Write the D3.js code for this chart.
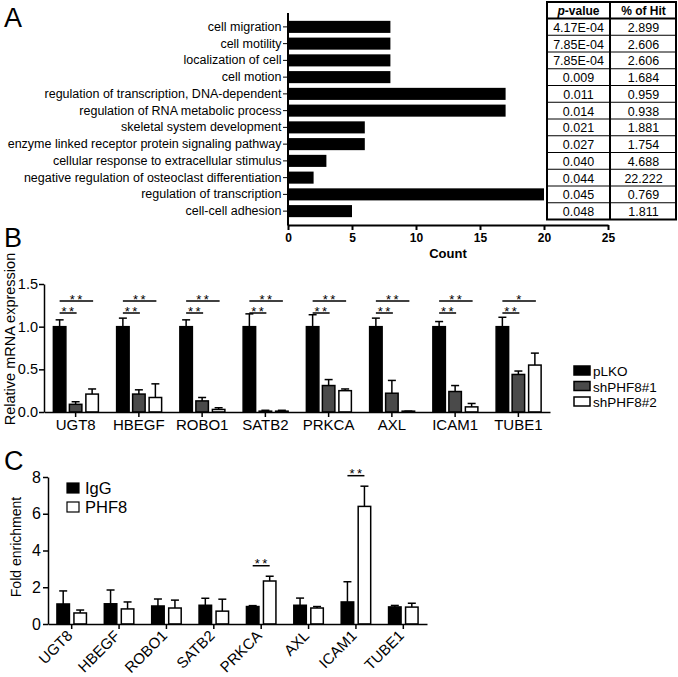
<!DOCTYPE html>
<meta charset="utf-8">
<html>
    <head>
        <script src="https://d3js.org/d3.v7.min.js"></script>
    </head>
    <style>
        body { margin: 0; background: #fff; }
        svg { display: block; font-family: Arial, "Liberation Sans", sans-serif; }
    </style>
    <body>
        <div id="fig"></div>
        <script>

            // Panel A: GO terms
            var goTerms = ["cell migration", "cell motility", "localization of cell", "cell motion",
                "regulation of transcription, DNA-dependent", "regulation of RNA metabolic process",
                "skeletal system development", "enzyme linked receptor protein signaling pathway",
                "cellular response to extracellular stimulus", "negative regulation of osteoclast differentiation",
                "regulation of transcription", "cell-cell adhesion"]
            var goCounts = [8, 8, 8, 8, 17, 17, 6, 6, 3, 2, 20, 5]
            var goPvalues = ["4.17E-04", "7.85E-04", "7.85E-04", "0.009", "0.011", "0.014",
                "0.021", "0.027", "0.040", "0.044", "0.045", "0.048"]
            var goHits = ["2.899", "2.606", "2.606", "1.684", "0.959", "0.938",
                "1.881", "1.754", "4.688", "22.222", "0.769", "1.811"]
            var countTicks = [0, 5, 10, 15, 20, 25]

            // Panel B: relative mRNA expression
            var genes = ["UGT8", "HBEGF", "ROBO1", "SATB2", "PRKCA", "AXL", "ICAM1", "TUBE1"]
            var seriesB = ["pLKO", "shPHF8#1", "shPHF8#2"]
            var pLKO = [1, 1, 1, 1, 1, 1, 1, 1]
            var pLKOErr = [0.08, 0.10, 0.08, 0.15, 0.14, 0.10, 0.06, 0.11]
            var sh1 = [0.09, 0.21, 0.13, 0.01, 0.31, 0.22, 0.24, 0.44]
            var sh1Err = [0.03, 0.05, 0.04, 0.01, 0.07, 0.15, 0.07, 0.04]
            var sh2 = [0.21, 0.17, 0.03, 0.01, 0.25, 0.01, 0.06, 0.55]
            var sh2Err = [0.06, 0.16, 0.02, 0.01, 0.02, 0.00, 0.04, 0.14]
            var sigB1 = ["**", "**", "**", "**", "**", "**", "**", "**"]   // pLKO vs shPHF8#1
            var sigB2 = ["**", "**", "**", "**", "**", "**", "**", "*"]    // pLKO vs shPHF8#2
            var ticksB = [0, 0.5, 1.0, 1.5]

            // Panel C: ChIP fold enrichment
            var seriesC = ["IgG", "PHF8"]
            var igg = [1.09, 1.10, 0.98, 1.02, 0.95, 1.02, 1.20, 0.93]
            var iggErr = [0.71, 0.75, 0.38, 0.38, 0.05, 0.39, 1.10, 0.08]
            var phf8 = [0.60, 0.82, 0.87, 0.70, 2.34, 0.87, 6.40, 0.92]
            var phf8Err = [0.16, 0.38, 0.43, 0.65, 0.26, 0.08, 1.10, 0.21]
            var sigC = ["", "", "", "", "**", "", "**", ""]
            var ticksC = [0, 2, 4, 6, 8]

            var W = 678, H = 677
            var svg = d3.select("#fig").append("svg")
                .attr("width", W).attr("height", H)

            // panel letters
            svg.selectAll("text.letter")
                .data([["A", 27], ["B", 247], ["C", 470]])
                .join("text")
                .attr("class", "letter")
                .attr("x", 4).attr("y", d => d[1])
                .attr("font-size", 27)
                .text(d => d[0])

            function styleAxis(g, w) {
                g.selectAll("path, line").attr("stroke", "#000").attr("stroke-width", w)
                g.selectAll("text").attr("fill", "#000")
            }

            // ---------- Panel A ----------
            var xA = d3.scaleLinear().domain([0, 25]).range([288, 608])
            var yA = d3.scaleBand().domain(goTerms).range([18.5, 219.5]).paddingInner(0.28).paddingOuter(0.14)

            var gA = svg.append("g")
            gA.selectAll("rect")
                .data(goTerms)
                .join("rect")
                .attr("x", xA(0))
                .attr("y", d => yA(d))
                .attr("width", (d, i) => xA(goCounts[i]) - xA(0))
                .attr("height", yA.bandwidth())
                .attr("fill", "#000")

            gA.append("g")
                .attr("transform", "translate(288,0)")
                .call(d3.axisLeft(yA).tickSize(5).tickPadding(1.5).tickSizeOuter(0))
                .call(g => g.select(".domain").remove())
                .call(g => g.selectAll("text").attr("font-size", 12.5).attr("font-family", null))
                .call(g => styleAxis(g, 1))
            gA.append("line")
                .attr("x1", 288).attr("x2", 288).attr("y1", 13).attr("y2", 225.5)
                .attr("stroke", "#000").attr("stroke-width", 2)

            gA.append("g")
                .attr("transform", "translate(0,225)")
                .call(d3.axisBottom(xA).tickValues(countTicks).tickSize(5).tickPadding(3).tickSizeOuter(0))
                .call(g => g.selectAll("text").attr("font-size", 12).attr("font-weight", "bold").attr("font-family", null))
                .call(g => styleAxis(g, 2))
            gA.append("text")
                .attr("x", xA(12.5)).attr("y", 258)
                .attr("text-anchor", "middle")
                .attr("font-size", 13).attr("font-weight", "bold")
                .text("Count")

            // table
            var tx0 = 547, tx1 = 610, tx2 = 677, tTop = 2
            var rowTop = d => yA(d) - (yA.step() - yA.bandwidth()) / 2
            var tBottom = rowTop(goTerms[goTerms.length - 1]) + yA.step()
            var hdrBottom = rowTop(goTerms[0])
            var tbl = svg.append("g")
            tbl.append("rect")
                .attr("x", tx0).attr("y", tTop).attr("width", tx2 - tx0 - 1).attr("height", tBottom - tTop)
                .attr("fill", "none").attr("stroke", "#000").attr("stroke-width", 2)
            tbl.append("line")
                .attr("x1", tx1).attr("x2", tx1).attr("y1", tTop).attr("y2", tBottom)
                .attr("stroke", "#000").attr("stroke-width", 2)
            tbl.selectAll("line.row")
                .data(goTerms)
                .join("line")
                .attr("class", "row")
                .attr("x1", tx0).attr("x2", tx2 - 1)
                .attr("y1", d => rowTop(d)).attr("y2", d => rowTop(d))
                .attr("stroke", "#000").attr("stroke-width", (d, i) => i === 0 ? 2 : 1)
            var hdr = tbl.append("text")
                .attr("x", (tx0 + tx1) / 2).attr("y", hdrBottom - 4)
                .attr("text-anchor", "middle").attr("font-size", 12).attr("font-weight", "bold")
            hdr.append("tspan").attr("font-style", "italic").text("p")
            hdr.append("tspan").text("-value")
            tbl.append("text")
                .attr("x", (tx1 + tx2) / 2).attr("y", hdrBottom - 4)
                .attr("text-anchor", "middle").attr("font-size", 12).attr("font-weight", "bold")
                .text("% of Hit")
            tbl.selectAll("text.pv")
                .data(goTerms)
                .join("text")
                .attr("class", "pv")
                .attr("x", (tx0 + tx1) / 2)
                .attr("y", d => yA(d) + yA.bandwidth() / 2 + 5)
                .attr("text-anchor", "middle").attr("font-size", 12.5)
                .text((d, i) => goPvalues[i])
            tbl.selectAll("text.hit")
                .data(goTerms)
                .join("text")
                .attr("class", "hit")
                .attr("x", (tx1 + tx2) / 2)
                .attr("y", d => yA(d) + yA.bandwidth() / 2 + 5)
                .attr("text-anchor", "middle").attr("font-size", 12.5)
                .text((d, i) => goHits[i])

            // ---------- Panel B ----------
            var xB = d3.scaleBand().domain(genes).range([44, 550])
            var yB = d3.scaleLinear().domain([0, 1.5]).range([412, 284])
            var colorsB = ["#000", "#4a4a4a", "#fff"]
            var offB = [-16, 0, 16.5]
            var barW = 12.5
            var gB = svg.append("g")
            var valsB = [pLKO, sh1, sh2], errsB = [pLKOErr, sh1Err, sh2Err]

            seriesB.forEach((s, k) => {
                var cx = g => xB(g) + xB.bandwidth() / 2 + offB[k]
                gB.selectAll("line.err" + k)
                    .data(genes)
                    .join("line")
                    .attr("x1", cx).attr("x2", cx)
                    .attr("y1", (g, i) => yB(valsB[k][i]))
                    .attr("y2", (g, i) => yB(valsB[k][i] + errsB[k][i]))
                    .attr("stroke", "#000").attr("stroke-width", 1.5)
                gB.selectAll("line.cap" + k)
                    .data(genes)
                    .join("line")
                    .attr("x1", g => cx(g) - 4).attr("x2", g => cx(g) + 4)
                    .attr("y1", (g, i) => yB(valsB[k][i] + errsB[k][i]))
                    .attr("y2", (g, i) => yB(valsB[k][i] + errsB[k][i]))
                    .attr("stroke", "#000").attr("stroke-width", 1.5)
                gB.selectAll("rect.b" + k)
                    .data(genes)
                    .join("rect")
                    .attr("x", g => cx(g) - barW / 2)
                    .attr("y", (g, i) => yB(valsB[k][i]))
                    .attr("width", barW)
                    .attr("height", (g, i) => yB(0) - yB(valsB[k][i]))
                    .attr("fill", colorsB[k])
                    .attr("stroke", "#000").attr("stroke-width", 1.5)
            })

            // significance bars
            var sigRows = [[sigB2, 2, 301], [sigB1, 1, 313]]
            sigRows.forEach(([sig, k, ly]) => {
                var x0 = g => xB(g) + xB.bandwidth() / 2 + offB[0]
                var x1 = g => xB(g) + xB.bandwidth() / 2 + offB[k] + 1
                gB.selectAll("line.sig" + k)
                    .data(genes)
                    .join("line")
                    .attr("x1", x0).attr("x2", x1)
                    .attr("y1", ly).attr("y2", ly)
                    .attr("stroke", "#000").attr("stroke-width", 1.5)
                gB.selectAll("text.sig" + k)
                    .data(genes)
                    .join("text")
                    .attr("x", g => (x0(g) + x1(g)) / 2 + 1)
                    .attr("y", ly + 2.5)
                    .attr("text-anchor", "middle")
                    .attr("font-size", 13).attr("letter-spacing", 2.5)
                    .text((g, i) => sig[i])
            })

            gB.append("g")
                .attr("transform", "translate(44,0)")
                .call(d3.axisLeft(yB).tickValues(ticksB).tickFormat(d3.format(".1f")).tickSize(5).tickPadding(1).tickSizeOuter(0))
                .call(g => g.selectAll("text").attr("font-size", 14.5).attr("font-family", null))
                .call(g => styleAxis(g, 1.5))
            gB.append("g")
                .attr("transform", "translate(0,412)")
                .call(d3.axisBottom(xB).tickSize(5).tickPadding(2).tickSizeOuter(0))
                .call(g => g.selectAll("text").attr("font-size", 15).attr("font-family", null))
                .call(g => styleAxis(g, 1.5))
            gB.append("text")
                .attr("transform", "translate(15,339) rotate(-90)")
                .attr("text-anchor", "middle").attr("font-size", 14.5)
                .text("Relative mRNA expression")

            var legB = gB.selectAll("g.leg")
                .data(seriesB)
                .join("g")
                .attr("class", "leg")
                .attr("transform", (d, i) => `translate(574,${371 + i * 15.5})`)
            legB.append("rect")
                .attr("x", 0).attr("y", -5).attr("width", 16).attr("height", 9)
                .attr("fill", (d, i) => colorsB[i])
                .attr("stroke", "#000").attr("stroke-width", 1.5)
            legB.append("text")
                .attr("x", 19).attr("y", 5)
                .attr("font-size", 13.5)
                .text(d => d)

            // ---------- Panel C ----------
            var xC = d3.scaleBand().domain(genes).range([48, 427])
            var yC = d3.scaleLinear().domain([0, 8]).range([624, 477])
            var colorsC = ["#000", "#fff"]
            var offC = [-8.5, 8.5]
            var gC = svg.append("g")
            var valsC = [igg, phf8], errsC = [iggErr, phf8Err]

            seriesC.forEach((s, k) => {
                var cx = g => xC(g) + xC.bandwidth() / 2 + offC[k]
                gC.selectAll("line.err" + k)
                    .data(genes)
                    .join("line")
                    .attr("x1", cx).attr("x2", cx)
                    .attr("y1", (g, i) => yC(valsC[k][i]))
                    .attr("y2", (g, i) => yC(valsC[k][i] + errsC[k][i]))
                    .attr("stroke", "#000").attr("stroke-width", 1.5)
                gC.selectAll("line.cap" + k)
                    .data(genes)
                    .join("line")
                    .attr("x1", g => cx(g) - 4).attr("x2", g => cx(g) + 4)
                    .attr("y1", (g, i) => yC(valsC[k][i] + errsC[k][i]))
                    .attr("y2", (g, i) => yC(valsC[k][i] + errsC[k][i]))
                    .attr("stroke", "#000").attr("stroke-width", 1.5)
                gC.selectAll("rect.c" + k)
                    .data(genes)
                    .join("rect")
                    .attr("x", g => cx(g) - barW / 2)
                    .attr("y", (g, i) => yC(valsC[k][i]))
                    .attr("width", barW)
                    .attr("height", (g, i) => yC(0) - yC(valsC[k][i]))
                    .attr("fill", colorsC[k])
                    .attr("stroke", "#000").attr("stroke-width", 1.5)
            })

            var sigGenes = genes.filter((g, i) => sigC[i])
            var sigTop = g => {
                var i = genes.indexOf(g)
                return Math.min(yC(igg[i] + iggErr[i]), yC(phf8[i] + phf8Err[i])) - 10.5
            }
            gC.selectAll("line.sig")
                .data(sigGenes)
                .join("line")
                .attr("x1", g => xC(g) + xC.bandwidth() / 2 + offC[0])
                .attr("x2", g => xC(g) + xC.bandwidth() / 2 + offC[1])
                .attr("y1", sigTop).attr("y2", sigTop)
                .attr("stroke", "#000").attr("stroke-width", 1.5)
            gC.selectAll("text.sig")
                .data(sigGenes)
                .join("text")
                .attr("x", g => xC(g) + xC.bandwidth() / 2 + 1)
                .attr("y", g => sigTop(g) + 2.5)
                .attr("text-anchor", "middle")
                .attr("font-size", 13).attr("letter-spacing", 2.5)
                .text(g => sigC[genes.indexOf(g)])

            gC.append("g")
                .attr("transform", "translate(48,0)")
                .call(d3.axisLeft(yC).tickValues(ticksC).tickSize(5).tickPadding(2).tickSizeOuter(0))
                .call(g => g.selectAll("text").attr("font-size", 16).attr("font-family", null))
                .call(g => styleAxis(g, 1.5))
            gC.append("g")
                .attr("transform", "translate(0,624)")
                .call(d3.axisBottom(xC).tickSize(5).tickSizeOuter(0))
                .call(g => g.selectAll("text")
                    .attr("font-size", 15).attr("font-family", null)
                    .attr("text-anchor", "end")
                    .attr("transform", "translate(-2,9) rotate(-45)")
                    .attr("dy", "0.35em").attr("y", 0).attr("x", 0))
                .call(g => styleAxis(g, 1.5))
            gC.append("text")
                .attr("transform", "translate(21,547) rotate(-90)")
                .attr("text-anchor", "middle").attr("font-size", 14)
                .text("Fold enrichment")

            var legC = gC.selectAll("g.leg")
                .data(seriesC)
                .join("g")
                .attr("class", "leg")
                .attr("transform", (d, i) => `translate(67,${488 + i * 19})`)
            legC.append("rect")
                .attr("x", 0).attr("y", -5).attr("width", 12).attr("height", 10)
                .attr("fill", (d, i) => colorsC[i])
                .attr("stroke", "#000").attr("stroke-width", 1.2)
            legC.append("text")
                .attr("x", 18).attr("y", 6)
                .attr("font-size", 16.5)
                .text(d => d)

        </script>
    </body>
</html>
